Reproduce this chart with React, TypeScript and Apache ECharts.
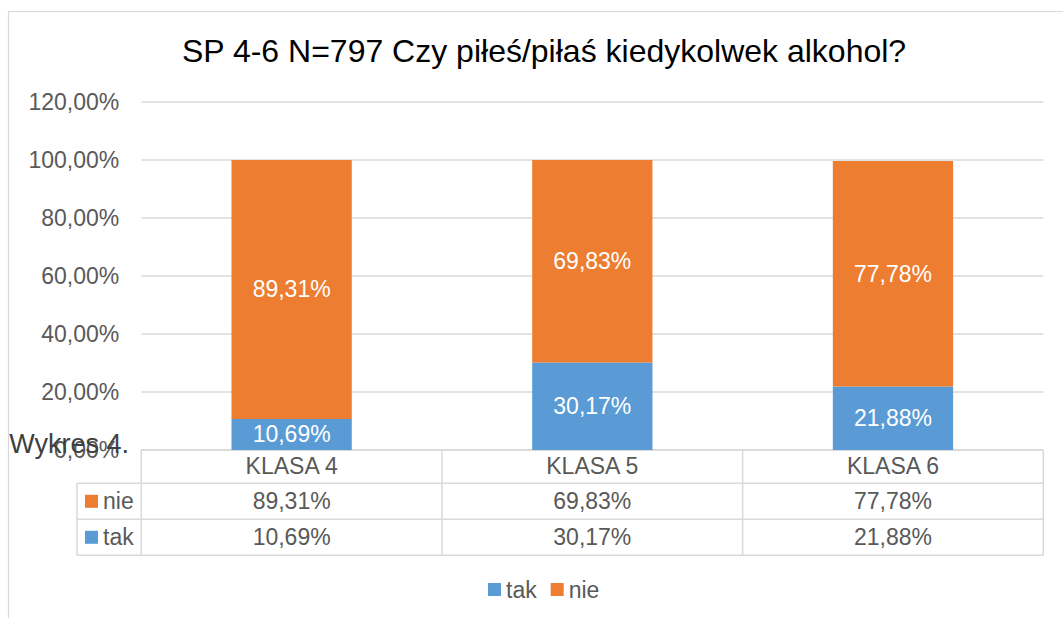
import React, { useEffect, useRef } from "react";
import * as echarts from "echarts";

const categories = ["KLASA 4", "KLASA 5", "KLASA 6"];
const takValues = [10.69, 30.17, 21.88];
const nieValues = [89.31, 69.83, 77.78];
const seriesNames = ["tak", "nie"];
const titleText = "SP 4-6 N=797 Czy piłeś/piłaś kiedykolwek alkohol?";
const captionText = "Wykres 4.";

const FONT = "'Liberation Sans', Arial, sans-serif";
const TAK_COLOR = "#5B9BD5";
const NIE_COLOR = "#ED7D31";
const LINE = "#d9d9d9";
const TXT = "#595959";

const fmt = (v: number) => v.toFixed(2).replace(".", ",") + "%";

export default function App() {
  const ref = useRef<HTMLDivElement>(null);
  useEffect(() => {
    if (!ref.current) return;
    const chart = echarts.init(ref.current, undefined, { renderer: "svg" });
    const gridLeft = 141.3;
    const gridRight = 1063 - 1043.3;
    chart.setOption({
      animation: false,
      textStyle: { fontFamily: FONT },
      grid: { left: gridLeft, right: gridRight, top: 102, bottom: 168, containLabel: false },
      legend: {
        data: seriesNames,
        left: 488,
        top: 578,
        padding: 0,
        icon: "rect",
        itemWidth: 13,
        itemHeight: 13,
        itemGap: 14,
        textStyle: { fontSize: 23, color: TXT, fontFamily: FONT },
      },
      xAxis: {
        type: "category",
        data: categories,
        axisLine: { show: false },
        axisTick: { show: false },
        axisLabel: {
          fontSize: 23,
          color: TXT,
          fontFamily: FONT,
          margin: 16,
          verticalAlign: "middle",
        },
      },
      yAxis: {
        type: "value",
        min: 0,
        max: 120,
        interval: 20,
        axisLine: { show: false },
        axisTick: { show: false },
        axisLabel: {
          fontSize: 23,
          color: TXT,
          fontFamily: FONT,
          margin: 22,
          formatter: (v: number) => fmt(v),
        },
        splitLine: { lineStyle: { color: LINE, width: 1.5 } },
      },
      series: [
        {
          name: "tak",
          type: "bar",
          stack: "total",
          barWidth: "40%",
          data: takValues,
          itemStyle: { color: TAK_COLOR },
          label: {
            show: true,
            position: "inside",
            color: "#ffffff",
            fontSize: 23,
            fontFamily: FONT,
            formatter: (p: any) => fmt(p.value),
          },
        },
        {
          name: "nie",
          type: "bar",
          stack: "total",
          barWidth: "40%",
          data: nieValues,
          itemStyle: { color: NIE_COLOR },
          label: {
            show: true,
            position: "inside",
            color: "#ffffff",
            fontSize: 23,
            fontFamily: FONT,
            formatter: (p: any) => fmt(p.value),
          },
        },
      ],
    });

    // Build data table from the library's own scales
    const c0 = chart.convertToPixel({ xAxisIndex: 0 }, 0) as number;
    const c1 = chart.convertToPixel({ xAxisIndex: 0 }, 1) as number;
    const colW = c1 - c0;
    const centers = categories.map((_, i) => chart.convertToPixel({ xAxisIndex: 0 }, i) as number);
    const yZero = chart.convertToPixel({ yAxisIndex: 0 }, 0) as number;
    const tableLeft = centers[0] - colW / 2;
    const tableRight = centers[centers.length - 1] + colW / 2;
    const labelLeft = 77;
    const headerBottom = yZero + 33.3;
    const rowH = 36;
    const rows = [
      { name: "nie", color: NIE_COLOR, values: nieValues },
      { name: "tak", color: TAK_COLOR, values: takValues },
    ];
    const ls = { stroke: LINE, lineWidth: 1.5 };
    const els: any[] = [];
    // chart border
    els.push({
      type: "rect",
      shape: { x: 8.5, y: 11.5, width: 1200, height: 800 },
      style: { fill: "none", stroke: LINE, lineWidth: 1.2 },
      silent: true,
      z: -10,
    });
    // title
    els.push({
      type: "text",
      x: 544,
      y: 51,
      style: {
        text: titleText,
        fontSize: 32,
        fontFamily: FONT,
        fill: "#000000",
        textAlign: "center",
        textVerticalAlign: "middle",
      },
    });
    // caption
    els.push({
      type: "text",
      x: 9.3,
      y: 444,
      z: 100,
      style: {
        text: captionText,
        fontSize: 27,
        fontFamily: FONT,
        fill: "#404040",
        textAlign: "left",
        textVerticalAlign: "middle",
      },
    });
    // horizontal lines
    els.push({ type: "line", shape: { x1: tableLeft, y1: yZero, x2: tableRight, y2: yZero }, style: ls });
    for (let r = 0; r <= rows.length; r++) {
      const y = headerBottom + r * rowH;
      els.push({ type: "line", shape: { x1: labelLeft, y1: y, x2: tableRight, y2: y }, style: ls });
    }
    const tableBottom = headerBottom + rows.length * rowH;
    // vertical lines
    els.push({ type: "line", shape: { x1: labelLeft, y1: headerBottom, x2: labelLeft, y2: tableBottom }, style: ls });
    for (let i = 0; i <= categories.length; i++) {
      const x = tableLeft + i * colW;
      els.push({ type: "line", shape: { x1: x, y1: yZero, x2: x, y2: tableBottom }, style: ls });
    }
    // rows
    rows.forEach((row, r) => {
      const cy = headerBottom + r * rowH + rowH / 2;
      els.push({
        type: "rect",
        shape: { x: 85, y: cy - 6.5, width: 13, height: 13 },
        style: { fill: row.color },
      });
      els.push({
        type: "text",
        x: 103,
        y: cy,
        style: {
          text: row.name,
          fontSize: 23,
          fontFamily: FONT,
          fill: TXT,
          textAlign: "left",
          textVerticalAlign: "middle",
        },
      });
      row.values.forEach((v, i) => {
        els.push({
          type: "text",
          x: centers[i],
          y: cy,
          style: {
            text: fmt(v),
            fontSize: 23,
            fontFamily: FONT,
            fill: TXT,
            textAlign: "center",
            textVerticalAlign: "middle",
          },
        });
      });
    });
    chart.setOption({ graphic: { elements: els } });

    return () => chart.dispose();
  }, []);
  return (
    <div
      ref={ref}
      style={{ position: "fixed", left: 0, top: 0, width: 1063, height: 618, background: "#fff" }}
    />
  );
}
